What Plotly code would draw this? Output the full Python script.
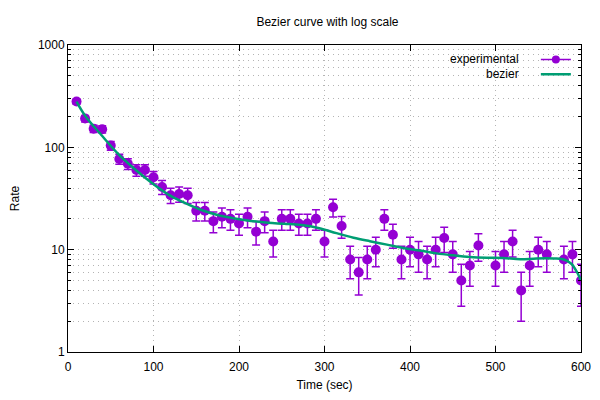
import plotly.graph_objects as go

# measured rate, one point every 10 s (490 and 570 are absent in the picture)
time_sec = [10, 20, 30, 40, 50, 60, 70, 80, 90, 100,
            110, 120, 130, 140, 150, 160, 170, 180, 190, 200,
            210, 220, 230, 240, 250, 260, 270, 280, 290, 300,
            310, 320, 330, 340, 350, 360, 370, 380, 390, 400,
            410, 420, 430, 440, 450, 460, 470, 480, 500, 510,
            520, 530, 540, 550, 560, 580, 590, 600]
rate = [280, 191, 152, 150, 104, 77, 69, 60, 60, 51,
        41, 34, 35, 34, 24, 24, 19, 21, 20, 18,
        21, 15, 19, 12, 20, 20, 18, 18, 20, 12,
        26, 17, 8, 6, 8, 10, 20, 14, 8, 10,
        9, 8, 10, 13, 9, 5, 7, 11, 7, 9,
        12, 4, 7, 10, 9, 8, 9, 5]
rate_err = [16.7, 13.8, 12.3, 12.2, 10.2, 8.8, 8.3, 7.7, 7.7, 7.1,
            6.4, 5.8, 5.9, 5.8, 4.9, 4.9, 4.4, 4.6, 4.5, 4.2,
            4.6, 3.9, 4.4, 3.5, 4.5, 4.5, 4.2, 4.2, 4.5, 3.5,
            5.1, 4.1, 2.8, 2.4, 2.8, 3.2, 4.5, 3.7, 2.8, 3.2,
            3.0, 2.8, 3.2, 3.6, 3.0, 2.2, 2.6, 3.3, 2.6, 3.0,
            3.5, 2.0, 2.6, 3.2, 3.0, 2.8, 3.0, 2.2]

# bezier curve
bez_x = [10, 20, 39, 58, 78, 97, 117, 136, 156, 175, 195, 214, 234, 253,
         273, 294, 314, 334, 353, 373, 392, 412, 431, 451, 470, 490, 509,
         529, 548, 568, 579, 589, 595, 600]
bez_y = [280, 204, 132, 87.5, 61.4, 45.5, 34.7, 28.8, 24.4, 21.8, 20.2, 19.1,
         18.3, 17.9, 17.4, 16.2, 14.5, 13.1, 12.1, 11.2, 10.4, 9.8, 9.2, 8.8,
         8.5, 8.35, 8.3, 8.05, 8.2, 8.2, 8.05, 7.25, 6.1, 5]

legend_labels = ["experimental", "bezier"]

font = "Liberation Sans, Arial, sans-serif"
purple = "#9400d3"
green = "#009e73"
grid = "#b4b4b4"

fig = go.Figure()
fig.add_trace(go.Scatter(
    x=time_sec, y=rate, mode="markers", name=legend_labels[0],
    showlegend=False,
    marker=dict(color=purple, size=10),
    error_y=dict(type="data", array=rate_err, color=purple,
                 thickness=1.5, width=4),
))
fig.add_trace(go.Scatter(
    x=bez_x, y=bez_y, mode="lines", name=legend_labels[1],
    showlegend=False,
    line=dict(color=green, width=2.5, shape="spline"),
))

# key entries: gnuplot puts the sample to the right of the text,
# so each sample gets its own small legend and the text is annotated
fig.add_trace(go.Scatter(x=[None], y=[None], mode="lines+markers", name="",
                         legend="legend",
                         line=dict(color=purple, width=1.5),
                         marker=dict(color=purple, size=8)))
fig.add_trace(go.Scatter(x=[None], y=[None], mode="lines", name="",
                         legend="legend2",
                         line=dict(color=green, width=2.5)))

axis = dict(
    showline=True, linecolor="black", linewidth=1, mirror="ticks",
    ticks="inside", tickcolor="black", ticklen=6,
    showgrid=True, gridcolor=grid, griddash="1px,4px", gridwidth=1,
    zeroline=False, tickfont=dict(size=12, color="black"),
    automargin=False,
)
fig.update_xaxes(axis, range=[0, 600], dtick=100, ticklabelstandoff=4,
                 title=dict(text="Time (sec)", standoff=13,
                            font=dict(size=12)))
fig.update_yaxes(axis, type="log", range=[0, 3],
                 tickvals=[1, 10, 100, 1000],
                 ticktext=["1", "10", "100", "1000"],
                 minor=dict(dtick="D1", ticks="inside", ticklen=3,
                            tickcolor="black", showgrid=True,
                            gridcolor=grid, griddash="1px,4px"),
                 title=dict(text="Rate", standoff=21, font=dict(size=12)))

for i, label in enumerate(legend_labels):
    fig.add_annotation(x=0.884, y=0.954 - i * 0.048, xref="paper",
                       yref="paper", text=label, showarrow=False,
                       xanchor="right", yanchor="middle",
                       font=dict(size=12, color="black"))

key = dict(xanchor="left", yanchor="top", bgcolor="rgba(0,0,0,0)",
           font=dict(size=9), itemwidth=30)

# the page body has an 8px margin, so the figure is 584x384
fig.update_layout(
    width=584, height=384,
    margin=dict(l=60, r=11, t=37, b=40, autoexpand=False),
    paper_bgcolor="white", plot_bgcolor="white",
    font=dict(family=font, size=12, color="black"),
    title=dict(text="Bezier curve with log scale", x=0.547, xanchor="center",
               y=1 - 14 / 384, yanchor="middle", font=dict(size=12)),
    legend=dict(key, x=0.912, y=1.0),
    legend2=dict(key, x=0.912, y=0.952),
    showlegend=True,
)

fig.write_html("out.html")
